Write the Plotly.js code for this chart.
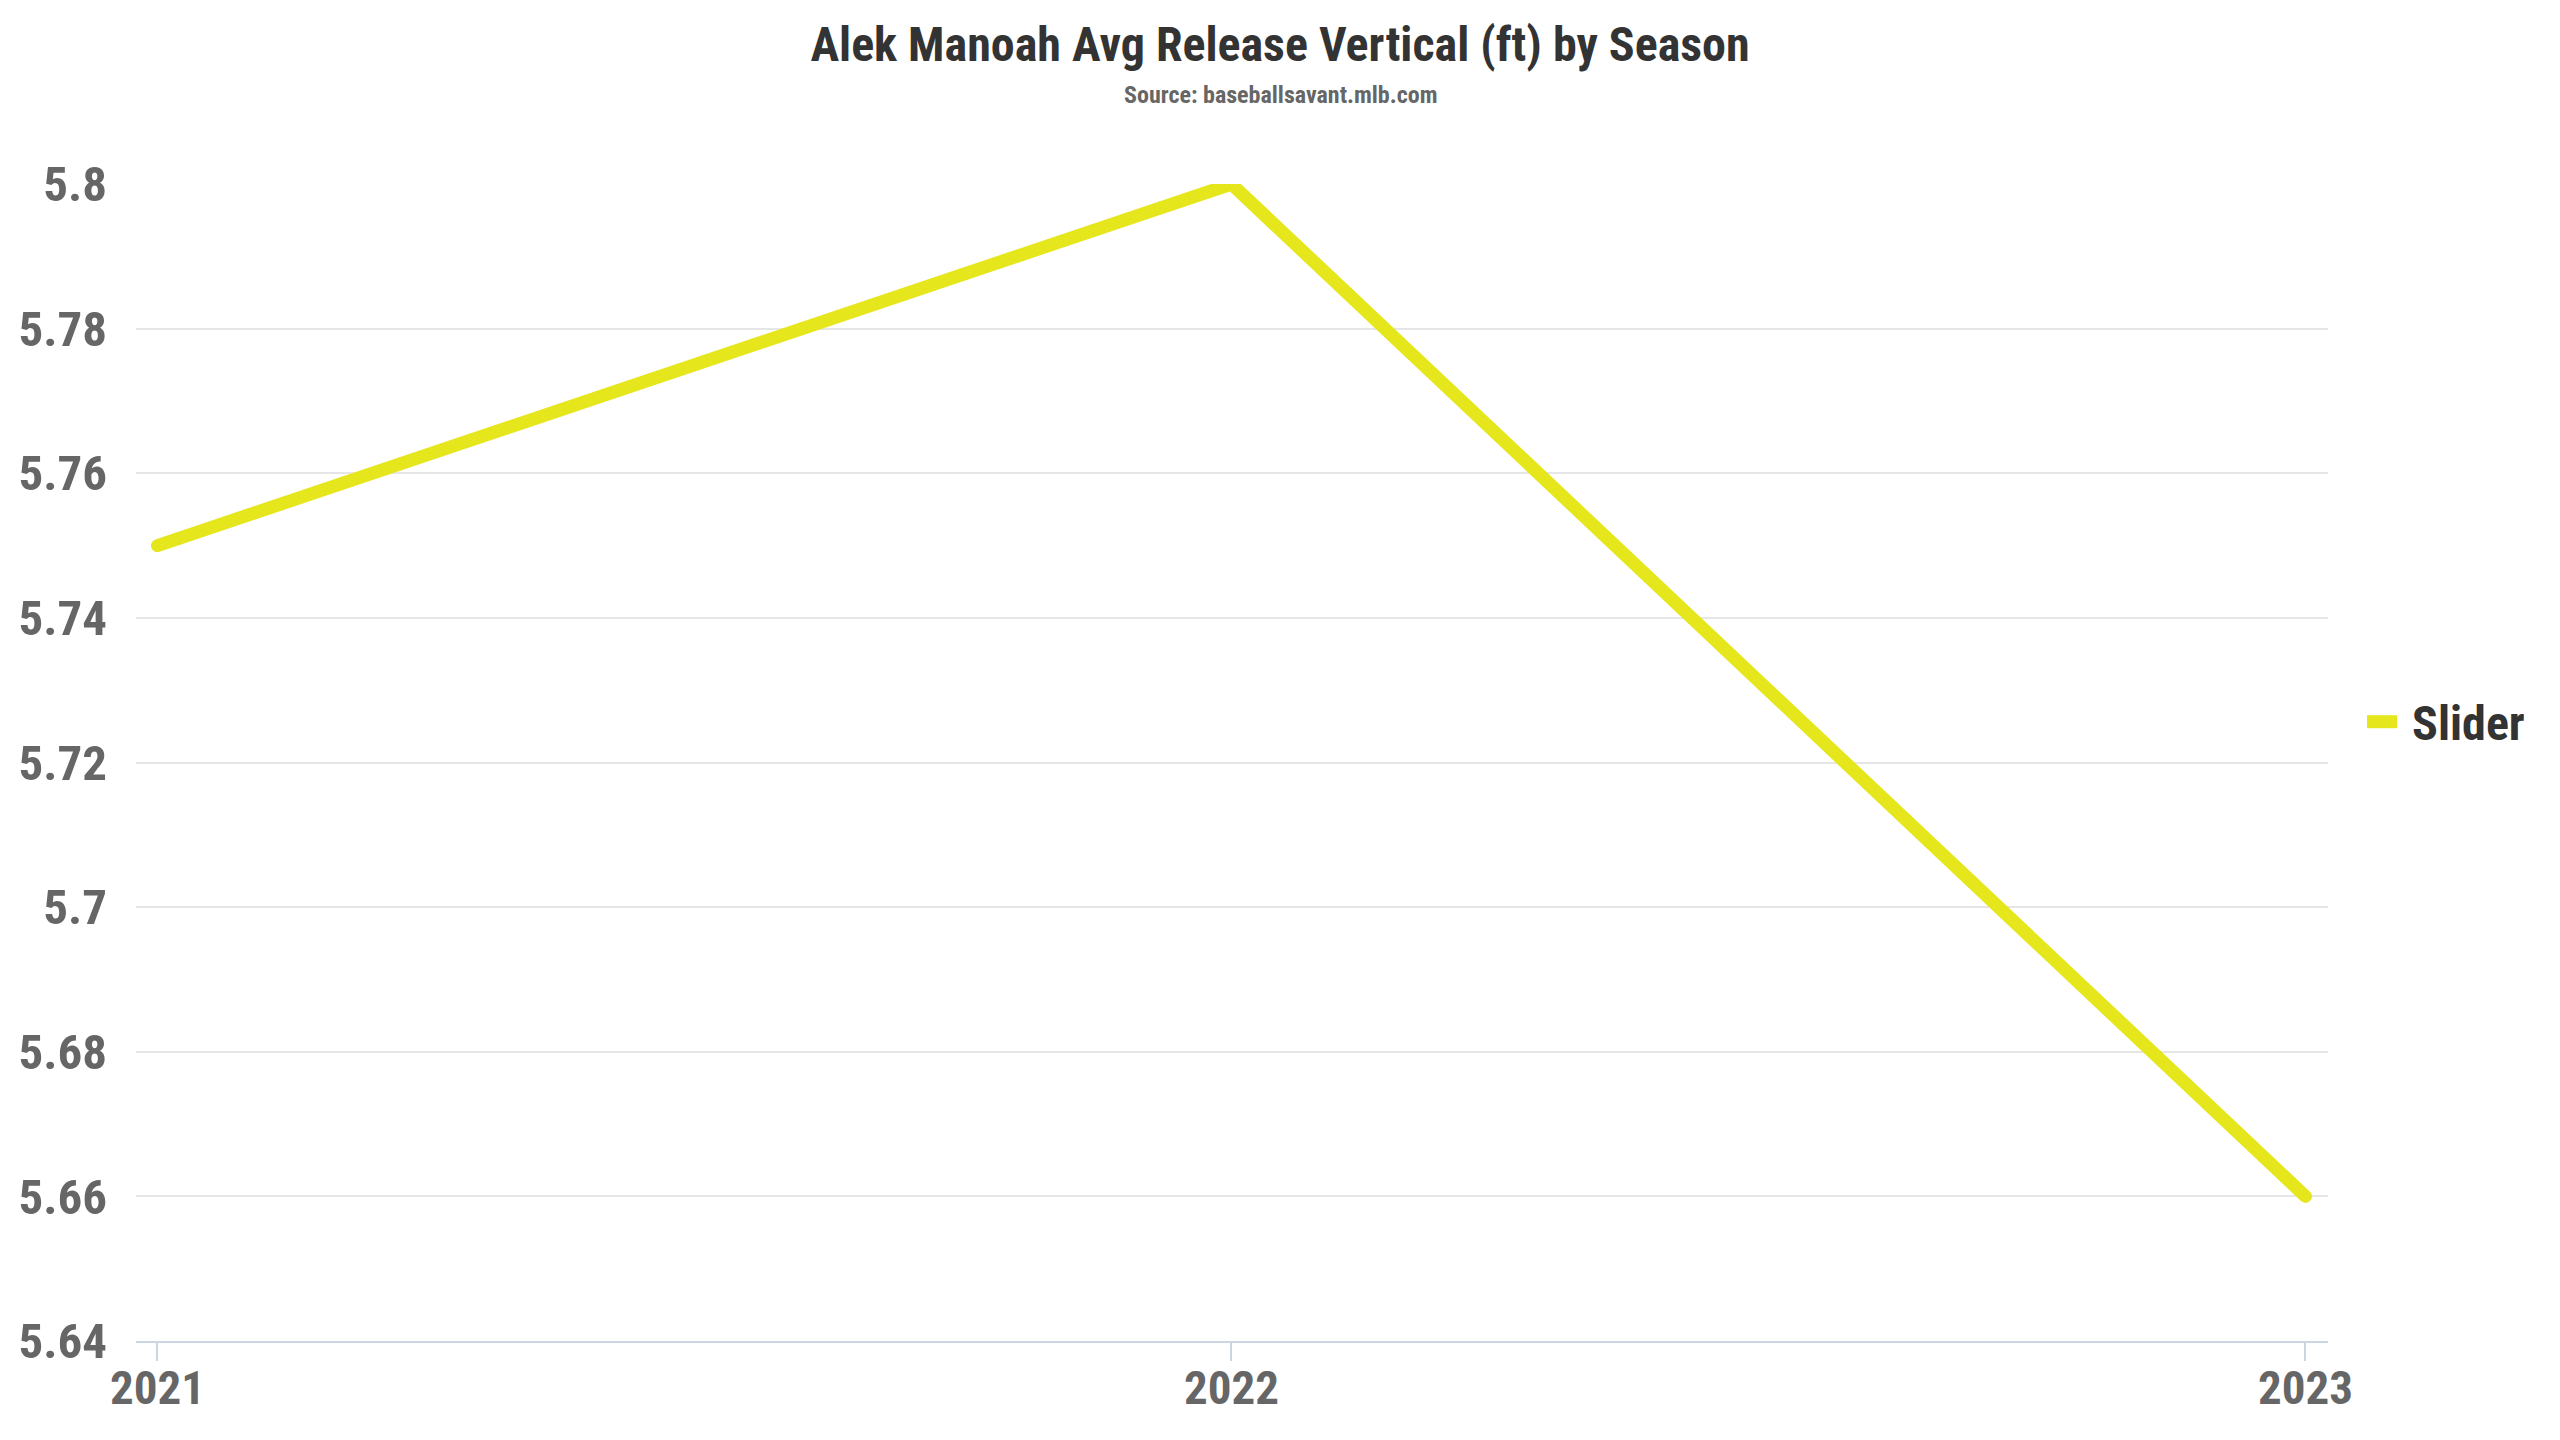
<!DOCTYPE html>
<html>
<head>
<meta charset="utf-8">
<script src="https://cdn.plot.ly/plotly-3.0.1.min.js"></script>
<style>
  html, body { margin: 0; padding: 0; background: #ffffff; }
  #chart { width: 2560px; height: 1440px; }
  .scatterlayer .js-line { stroke-linecap: round; stroke-linejoin: round; }
  .legend .scrollbox { clip-path: none !important; }
  .legend .js-line { stroke-width: 13px !important; }
  .legend .legendtext { transform: translateX(10px); }
</style>
</head>
<body>
<div id="chart"></div>
<script>
// Average vertical release point of Manoah's slider, per season
const seasons = [2021, 2022, 2023];
const sliderRelease = [5.75, 5.80, 5.66];
const yTicks = [5.64, 5.66, 5.68, 5.70, 5.72, 5.74, 5.76, 5.78, 5.80];
const yTickLabels = ['5.64', '5.66', '5.68', '5.7', '5.72', '5.74', '5.76', '5.78', '5.8'];
const seriesName = 'Slider';

const FONT = '"Roboto Condensed", "Liberation Sans Narrow", Roboto, sans-serif';
const lineColor = '#e6e61c';

const traces = [{
  x: seasons,
  y: sliderRelease,
  name: seriesName,
  type: 'scatter',
  mode: 'lines',
  line: { color: lineColor, width: 13 },
  cliponaxis: false,
  hoverinfo: 'x+y'
}];

const layout = {
  width: 2560,
  height: 1440,
  paper_bgcolor: '#ffffff',
  plot_bgcolor: '#ffffff',
  margin: { l: 136, r: 232, t: 184, b: 99 },
  font: { family: FONT, color: '#666666' },
  title: {
    text: 'Alek Manoah Avg Release Vertical (ft) by Season',
    font: { family: FONT, size: 48, color: '#333333', weight: 'bold' },
    x: 0.5,
    xref: 'container',
    xanchor: 'center',
    y: 1 - 44 / 1440,
    yref: 'container',
    yanchor: 'middle'
  },
  annotations: [{
    text: 'Source: baseballsavant.mlb.com',
    xref: 'paper', yref: 'paper',
    x: (1280 - 136) / 2192, y: (1341 - 95) / 1157,
    xanchor: 'center', yanchor: 'middle',
    showarrow: false,
    font: { family: FONT, size: 24, color: '#666666', weight: 'bold' }
  }],
  xaxis: {
    range: [2020.98, 2023.021],
    tickvals: seasons,
    ticktext: seasons.map(String),
    showgrid: false,
    zeroline: false,
    showline: true,
    linecolor: '#ccd6e0',
    linewidth: 2,
    ticks: 'outside',
    ticklen: 18,
    tickwidth: 2,
    tickcolor: '#ccd6e0',
    ticklabelstandoff: -13,
    tickfont: { family: FONT, size: 47, color: '#666666', weight: 'bold' }
  },
  yaxis: {
    range: [5.64, 5.80],
    tickvals: yTicks,
    ticktext: yTickLabels,
    showgrid: true,
    gridcolor: '#e6e6e6',
    gridwidth: 2,
    zeroline: false,
    showline: false,
    ticks: '',
    ticklabelstandoff: 28,
    tickfont: { family: FONT, size: 49, color: '#666666', weight: 'bold' }
  },
  showlegend: true,
  legend: {
    x: 1 + 34 / 2192, xanchor: 'left',
    y: (1341 - 722) / 1157, yanchor: 'middle',
    font: { family: FONT, size: 48, color: '#333333', weight: 'bold' },
    bgcolor: 'rgba(0,0,0,0)'
  }
};

Plotly.newPlot('chart', traces, layout, { displayModeBar: false, responsive: false });
</script>
</body>
</html>
